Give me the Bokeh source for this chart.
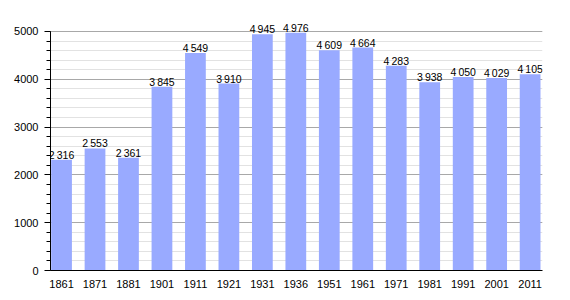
from bokeh.plotting import figure
from bokeh.models import ColumnDataSource, FixedTicker, SingleIntervalTicker, Range1d
from bokeh.core.properties import value
from bokeh.embed import file_html
from bokeh.resources import INLINE

years = ["1861", "1871", "1881", "1901", "1911", "1921", "1931", "1936",
         "1951", "1961", "1971", "1981", "1991", "2001", "2011"]
population = [2316, 2553, 2361, 3845, 4549, 3910, 4945, 4976,
              4609, 4664, 4283, 3938, 4050, 4029, 4105]
y_max = 5000

xs = list(range(len(years)))
labels = [f"{v:,}".replace(",", "\u2009") for v in population]
src = ColumnDataSource(dict(x=xs, y=population, lab=labels))

p = figure(width=570, height=300, output_backend="svg", toolbar_location=None,
           x_range=Range1d(-0.33, len(years) - 1 + 0.37), y_range=Range1d(0, 5251),
           min_border_left=50, min_border_right=28, min_border_top=19, min_border_bottom=30)
p.outline_line_color = None
p.background_fill_color = "white"

p.vbar(x="x", top="y", width=0.62, bottom=0, source=src, color="#99AAFF", line_color=None)
p.text(x="x", y="y", text="lab", source=src, text_align="center", text_baseline="bottom",
       y_offset=1, text_font=value("Liberation Sans"), text_font_size="10.5px", text_color="black")

# y axis
p.yaxis.ticker = SingleIntervalTicker(interval=1000, num_minor_ticks=5)
p.yaxis.bounds = (0, y_max)
p.yaxis.axis_line_color = "black"
p.yaxis.major_tick_line_color = "black"
p.yaxis.minor_tick_line_color = "black"
p.yaxis.major_tick_in = 0
p.yaxis.major_tick_out = 6
p.yaxis.minor_tick_in = 0
p.yaxis.minor_tick_out = 4
p.yaxis.major_label_standoff = 6
p.yaxis.major_label_text_font = "Liberation Sans"
p.yaxis.major_label_text_font_size = "11px"
p.yaxis.major_label_text_color = "black"

# x axis
p.xaxis.ticker = FixedTicker(ticks=xs)
p.xaxis.major_label_overrides = {i: y for i, y in zip(xs, years)}
p.xaxis.axis_line_color = "black"
p.xaxis.major_tick_line_color = None
p.xaxis.minor_tick_line_color = None
p.xaxis.major_label_standoff = 3
p.xaxis.major_label_text_font = "Liberation Sans"
p.xaxis.major_label_text_font_size = "11px"
p.xaxis.major_label_text_color = "black"

p.xgrid.grid_line_color = None
p.ygrid.bounds = (0, y_max)
p.ygrid.grid_line_color = "#a8a8a8"
p.ygrid.minor_grid_line_color = "#e2e2e2"
p.ygrid.level = "underlay"

open("out.html", "w").write(file_html(p, INLINE))
